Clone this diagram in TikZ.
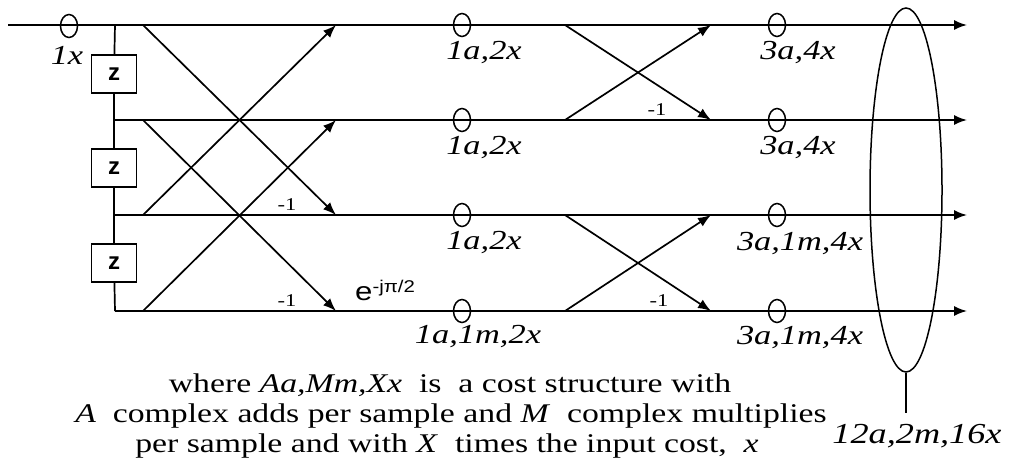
\documentclass[tikz,border=0pt]{standalone}
\usepackage{fontspec}
\setmainfont{Liberation Serif}[FakeStretch=1.25]
\setsansfont{Liberation Sans}
\newfontfamily\widesans{Liberation Sans}[FakeStretch=1.2]
\usetikzlibrary{arrows.meta,shapes.geometric}
\begin{document}
\begin{tikzpicture}[x=1pt,y=-1pt,
  wire/.style={line width=1.7pt},
  arr/.style={-{Latex[length=13pt,width=10pt]}},
  ring/.style={draw,ellipse,line width=1.5pt,minimum width=17pt,minimum height=23pt,inner sep=0pt},
  zbox/.style={draw,fill=white,line width=1.3pt,minimum width=45pt,minimum height=38pt,inner sep=0pt,font=\sffamily\bfseries\fontsize{24}{24}\selectfont},
  cost/.style={inner sep=0pt,font=\itshape\fontsize{27.5}{27.5}\selectfont},
  neg/.style={inner sep=0pt,font=\fontsize{18}{18}\selectfont},
  capt/.style={inner sep=0pt,anchor=base,font=\fontsize{27}{27}\selectfont}]
\useasboundingbox (0,0) rectangle (1011,463);
% row ends
\coordinate (in1) at (8,25);
\coordinate (t1) at (115,25);
\coordinate (t2) at (115,120);
\coordinate (t3) at (115,215);
\coordinate (t4) at (115,311);
\coordinate (o1) at (967,25);
\coordinate (o2) at (967,120);
\coordinate (o3) at (967,215);
\coordinate (o4) at (967,311);
% butterfly points
\foreach \r/\y in {1/25,2/120,3/215,4/311}{
  \coordinate (p1\r) at (143,\y);
  \coordinate (q1\r) at (336,\y);
  \coordinate (p2\r) at (565,\y);
  \coordinate (q2\r) at (711,\y);
}
% delay chain
\node[zbox] (z1) at (114,74) {z};
\node[zbox] (z2) at (114,168) {z};
\node[zbox] (z3) at (114,263) {z};
\draw[wire] (t1) -- (z1) -- (z2) -- (z3) -- (t4);
\node[zbox] at (z1) {z};
\node[zbox] at (z2) {z};
\node[zbox] at (z3) {z};
% rows
\draw[wire,arr] (in1) -- (o1);
\draw[wire,arr] (t2) -- (o2);
\draw[wire,arr] (t3) -- (o3);
\draw[wire,arr] (t4) -- (o4);
% stage 1
\draw[wire,arr] (p11) -- (q13);
\draw[wire,arr] (p13) -- (q11);
\draw[wire,arr] (p12) -- (q14);
\draw[wire,arr] (p14) -- (q12);
% stage 2
\draw[wire,arr] (p21) -- (q22);
\draw[wire,arr] (p22) -- (q21);
\draw[wire,arr] (p23) -- (q24);
\draw[wire,arr] (p24) -- (q23);
% rings
\node[ring] (c0) at (69,26) {};
\node[ring] (a1) at (462,25) {};
\node[ring] (a2) at (462,120) {};
\node[ring] (a3) at (462,215) {};
\node[ring] (a4) at (462,311) {};
\node[ring] (b1) at (777,25) {};
\node[ring] (b2) at (777,120) {};
\node[ring] (b3) at (777,215) {};
\node[ring] (b4) at (777,311) {};
% cost labels
\node[cost] (lc0) at (67,55) {1x};
\node[cost] (la1) at (484,53) {1a,2x};
\node[cost] (la2) at (484,148) {1a,2x};
\node[cost] (la3) at (484,243) {1a,2x};
\node[cost] (la4) at (478,337) {1a,1m,2x};
\node[cost] (lb1) at (798,53) {3a,4x};
\node[cost] (lb2) at (798,148) {3a,4x};
\node[cost] (lb3) at (800,244) {3a,1m,4x};
\node[cost] (lb4) at (800,338) {3a,1m,4x};
% -1 labels
\node[neg] (n1) at (287,205) {-1};
\node[neg] (n2) at (287,301) {-1};
\node[neg] (n3) at (657,110) {-1};
\node[neg] (n4) at (659,301) {-1};
% twiddle
\node[inner sep=0pt,anchor=base west,font=\widesans\fontsize{26}{26}\selectfont] (tw) at (355,300) {e\raisebox{8pt}{\fontsize{17}{17}\selectfont -jπ/2}};
% total
\node[draw,ellipse,line width=1.5pt,minimum width=72pt,minimum height=364pt,inner sep=0pt] (big) at (906,190) {};
\coordinate (bt) at (906,413);
\draw[line width=1.5pt] (big.south) -- (bt);
\node[cost,anchor=base,font=\itshape\fontsize{29}{29}\selectfont] (tot) at (917,443) {12a,2m,16x};
% caption
\node[capt] (cap1) at (450,392) {where \textit{Aa,Mm,Xx}\ \ is\ \ a cost structure with};
\node[capt] (cap2) at (451,422) {\textit{A}\ \ complex adds per sample and \textit{M}\ \ complex multiplies};
\node[capt] (cap3) at (447,452) {per sample and with \textit{X}\ \ times the input cost,\ \ \textit{x}};
\end{tikzpicture}
\end{document}
